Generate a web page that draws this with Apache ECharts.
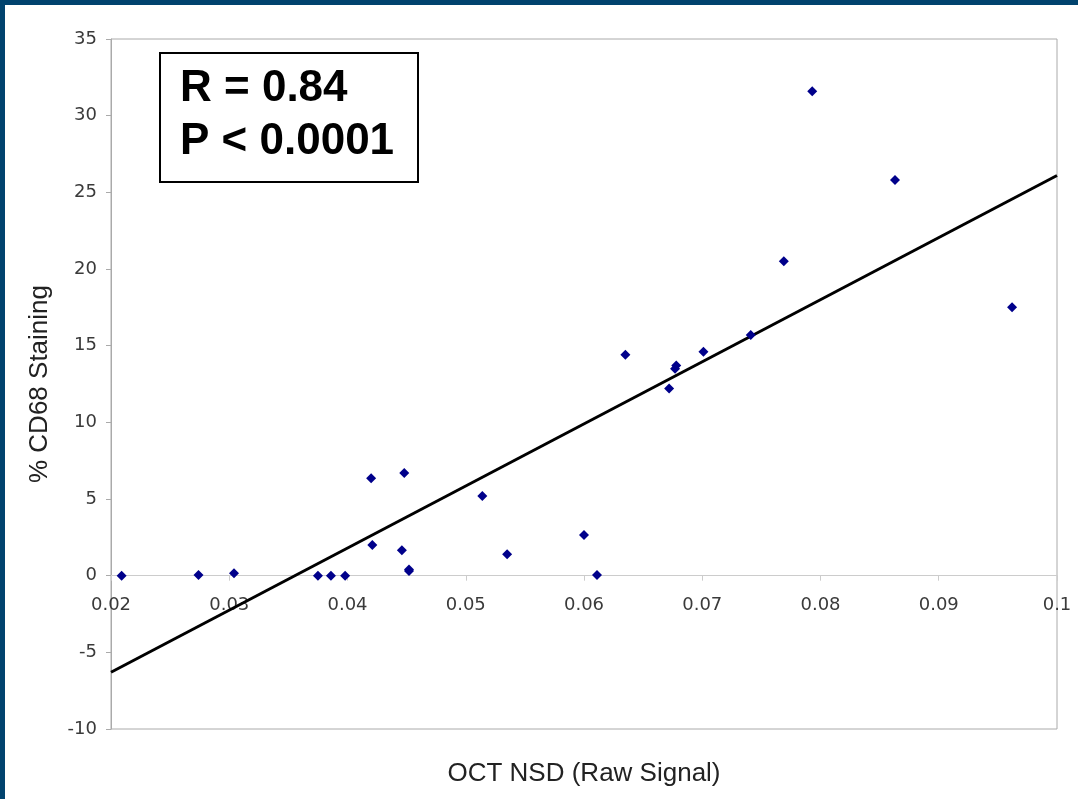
<!DOCTYPE html>
<html>
<head>
<meta charset="utf-8">
<script src="https://cdn.jsdelivr.net/npm/echarts@6/dist/echarts.min.js"></script>
<style>
  html, body { margin: 0; padding: 0; background: #ffffff; }
  #chart { width: 1078px; height: 799px; }
</style>
</head>
<body>
<div id="chart"></div>
<script>
// Data
const octNSD = [0.0209, 0.0274, 0.0304, 0.0375, 0.0386, 0.0398, 0.0420, 0.0421, 0.0448, 0.0446, 0.0452, 0.0452, 0.0514, 0.0535, 0.0600, 0.0611, 0.0635, 0.0672, 0.0677, 0.0678, 0.0701, 0.0741, 0.0769, 0.0793, 0.0863, 0.0962];
const cd68 = [0.0, 0.05, 0.15, 0.0, 0.0, 0.0, 6.35, 2.0, 6.7, 1.65, 0.3, 0.4, 5.2, 1.4, 2.65, 0.05, 14.4, 12.2, 13.5, 13.7, 14.6, 15.7, 20.5, 31.6, 25.8, 17.5];
const fitX = [0.02, 0.1];
const fitY = [-6.3, 26.1];
const statLines = ['R = 0.84', 'P < 0.0001'];
const xTitle = 'OCT NSD (Raw Signal)';
const yTitle = '% CD68 Staining';

const blue = '#01436e';
const chart = echarts.init(document.getElementById('chart'));
chart.setOption({
  animation: false,
  backgroundColor: '#ffffff',
  grid: { left: 111, top: 39, right: 21, bottom: 70, containLabel: false, outerBoundsMode: 'none',
          show: true, borderColor: '#aaaaaa', borderWidth: 1, backgroundColor: 'transparent' },
  xAxis: {
    type: 'value', min: 0.02, max: 0.1, interval: 0.01,
    name: xTitle, nameLocation: 'middle', nameGap: 32,
    nameTextStyle: { fontFamily: 'Liberation Sans', fontSize: 26, color: '#222' },
    axisLine: { onZero: true, lineStyle: { color: '#cccccc', width: 1 } },
    axisTick: { show: true, length: 5, lineStyle: { color: '#cccccc' } },
    axisLabel: { fontFamily: 'DejaVu Sans', fontSize: 18, color: '#3a3a3a', margin: -133,
      formatter: v => String(+v.toFixed(2)) },
    splitLine: { show: false }
  },
  yAxis: {
    type: 'value', min: -10, max: 35, interval: 5,
    name: yTitle, nameLocation: 'middle', nameGap: 58, nameRotate: 90,
    nameTextStyle: { fontFamily: 'Liberation Sans', fontSize: 26, color: '#222' },
    axisLine: { show: true, onZero: false, lineStyle: { color: '#aaaaaa', width: 1 } },
    axisTick: { show: true, length: 5, lineStyle: { color: '#aaaaaa' } },
    axisLabel: { fontFamily: 'DejaVu Sans', fontSize: 18, color: '#3a3a3a', margin: 14 },
    splitLine: { show: false }
  },
  series: [
    {
      type: 'line', data: fitX.map((x, i) => [x, fitY[i]]),
      symbol: 'none', lineStyle: { color: '#000000', width: 3 }, z: 2
    },
    {
      type: 'scatter', data: octNSD.map((x, i) => [x, cd68[i]]),
      symbol: 'diamond', symbolSize: 10, itemStyle: { color: '#00008b', opacity: 1 }, z: 3
    }
  ],
  graphic: [
    { type: 'rect', left: 0, top: 0, shape: { width: 5, height: 799 }, style: { fill: blue }, z: 100 },
    { type: 'rect', left: 0, top: 0, shape: { width: 1078, height: 5 }, style: { fill: blue }, z: 100 },
    { type: 'rect', x: 160, y: 53, shape: { width: 258, height: 129 }, style: { fill: '#ffffff', stroke: '#000000', lineWidth: 2 }, z: 50 },
    { type: 'text', x: 180, y: 89, style: { text: statLines[0], font: 'bold 44px "Liberation Sans"', fill: '#000', textVerticalAlign: 'middle' }, z: 51 },
    { type: 'text', x: 180, y: 142, style: { text: statLines[1], font: 'bold 44px "Liberation Sans"', fill: '#000', textVerticalAlign: 'middle' }, z: 51 }
  ]
});
</script>
</body>
</html>
